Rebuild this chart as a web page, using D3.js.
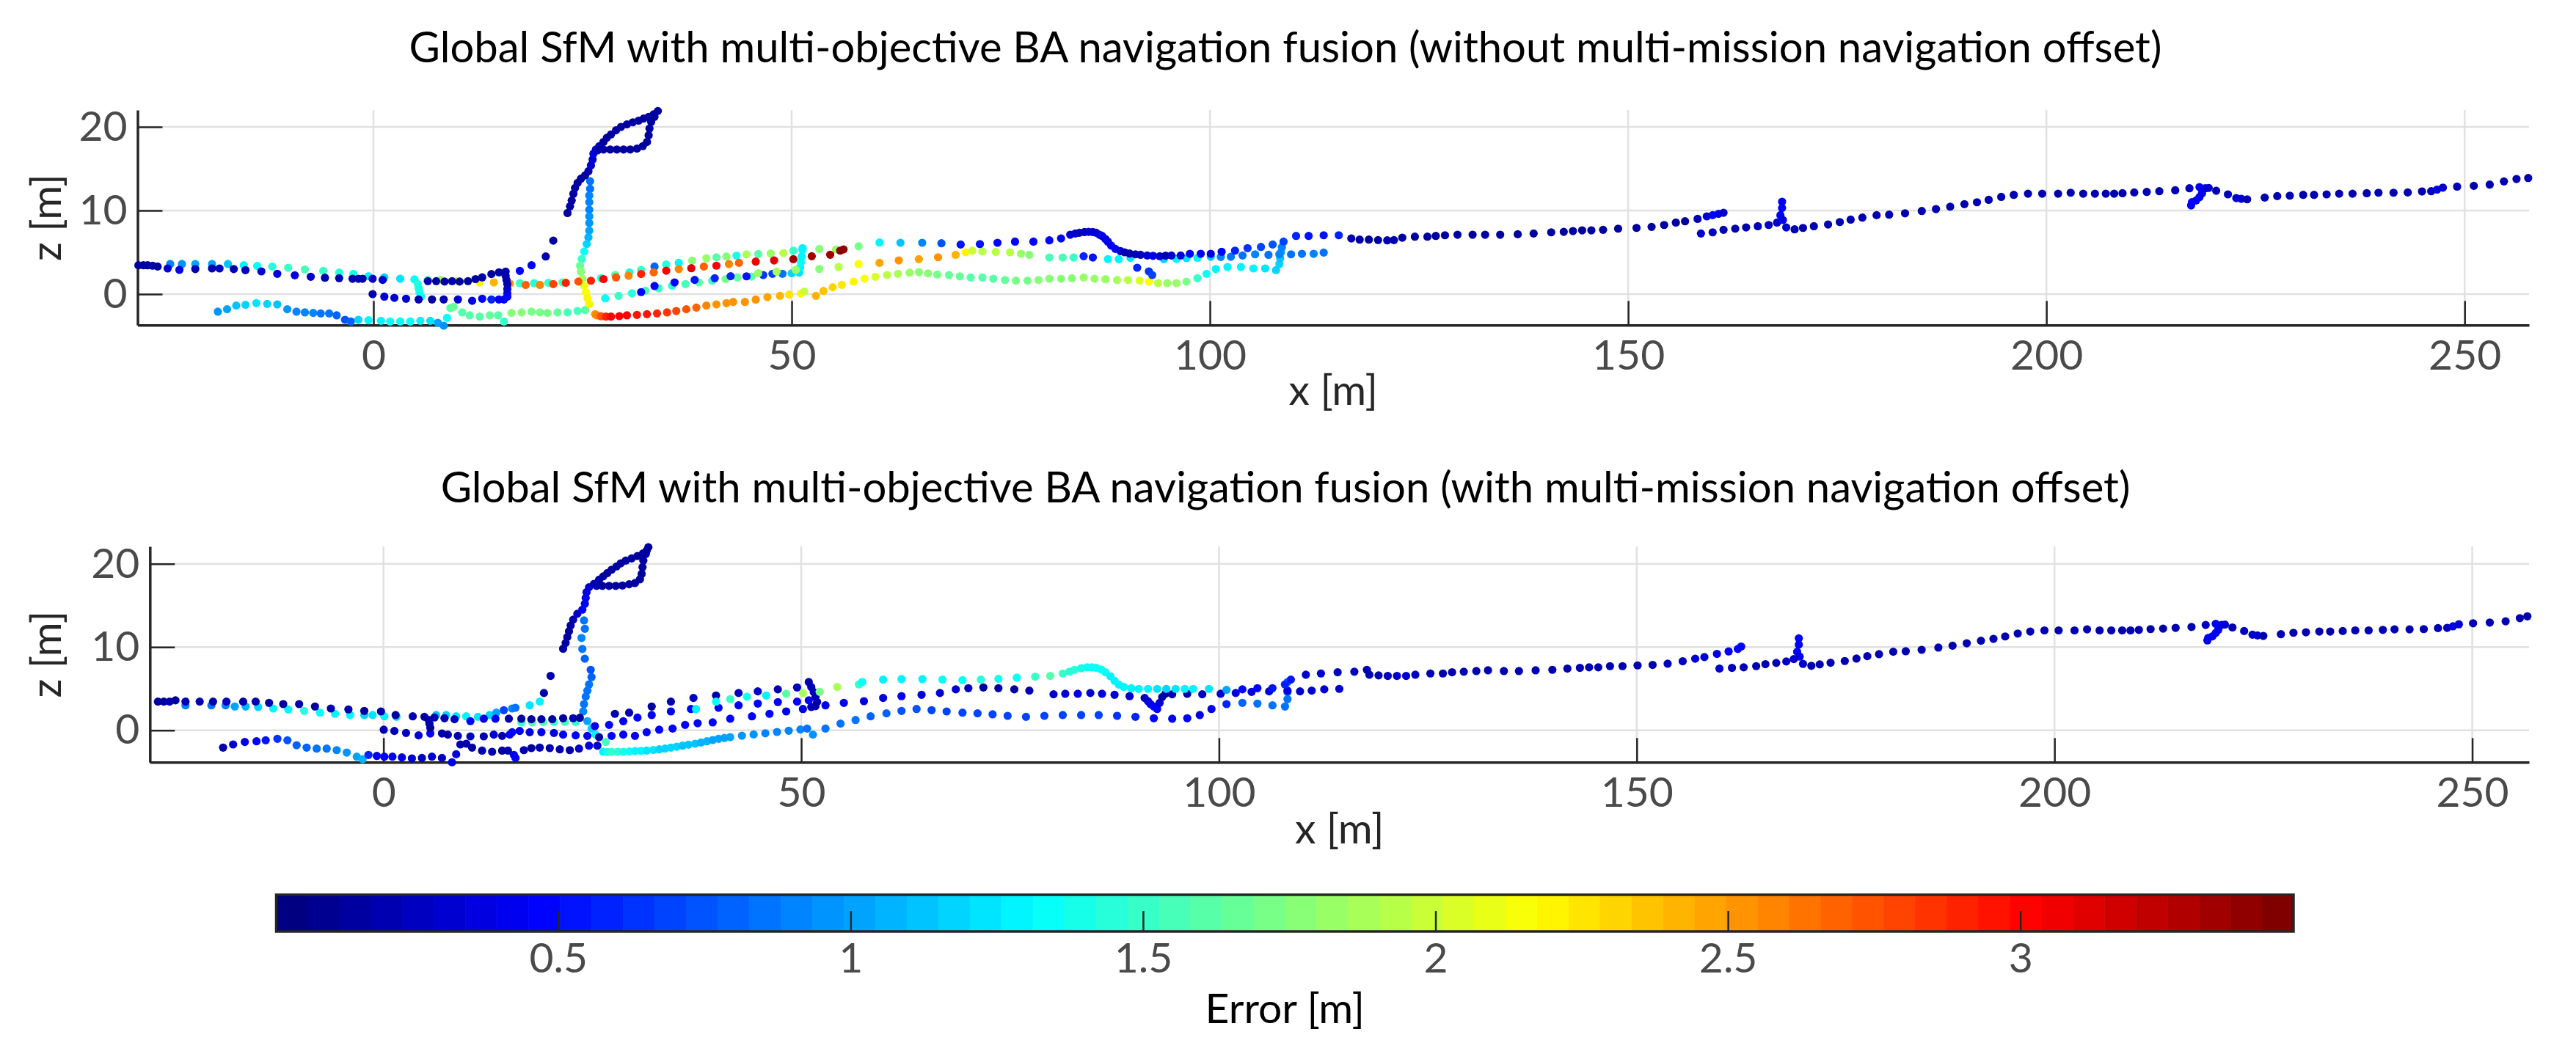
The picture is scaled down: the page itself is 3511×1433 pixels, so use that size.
<!DOCTYPE html>
<html>
<head>
<meta charset="utf-8">
<script src="https://cdn.jsdelivr.net/npm/d3@7/dist/d3.min.js"></script>
<style>
  body { margin: 0; background: #ffffff; }
  text { font-family: Lato, "Open Sans", sans-serif; }
</style>
</head>
<body>
<svg id="chart"></svg>
<script>
// Camera positions (x, z) of each mission, coloured by error [m]
// each point: [x, z, error]

// ---- top panel: without multi-mission navigation offset ----
const topNavyClimb = [
  [-28.1,3.45,0.15],[-27.5,3.45,0.15],[-27.0,3.45,0.15],[-26.4,3.4,0.2],[-25.8,3.3,0.15],[-24.6,3.07,0.3],
  [-23.2,2.9,0.35],[-21.3,3.0,0.2],[-19.3,3.07,0.2],[-18.4,3.07,0.25],[-16.7,3.0,0.2],[-15.3,2.87,0.25],
  [-13.4,2.72,0.3],[-11.5,2.43,0.35],[-9.4,2.25,0.35],[-7.5,2.08,0.3],[-5.8,1.96,0.2],[-4.1,1.9,0.2],
  [-2.5,1.84,0.2],[-1.8,1.84,0.2],[-1.3,1.84,0.2],[-0.1,1.84,0.25],[1.1,1.7,0.3],[6.5,1.55,0.2],
  [7.5,1.55,0.15],[8.5,1.5,0.15],[9.4,1.55,0.2],[10.3,1.5,0.15],[11.3,1.55,0.15],[12.2,1.8,0.15],
  [13.0,2.0,0.15],[14.1,2.4,0.15],[15.0,2.6,0.15],[15.8,2.7,0.2],[17.5,2.78,0.45],[18.9,3.45,0.45],
  [20.6,4.5,0.2],[21.5,6.4,0.15],[23.2,9.7,0.15],[23.5,10.5,0.15],[23.7,11.2,0.15],[23.9,12.0,0.15],
  [24.1,12.7,0.15],[24.4,13.3,0.15],[24.8,13.8,0.15],[25.3,14.2,0.15],[25.7,14.7,0.2],[26.0,15.4,0.3],
  [26.2,16.1,0.3],[26.3,16.8,0.35],[26.6,17.3,0.3],[27.0,17.7,0.2],[27.5,18.2,0.15],[27.9,18.7,0.15],
  [28.4,19.1,0.15],[29.0,19.6,0.15],[29.6,20.0,0.15],[30.3,20.3,0.15],[31.0,20.55,0.15],[31.7,20.75,0.15],
  [32.3,21.0,0.15],[32.9,21.2,0.15],[33.5,21.5,0.15],[34.0,21.9,0.15],[33.6,21.2,0.15],[33.2,20.6,0.15],
  [33.0,19.8,0.15],[32.9,19.0,0.15],[32.7,18.2,0.15],[32.2,17.7,0.15],[31.5,17.4,0.15],[30.7,17.3,0.15],
  [29.9,17.3,0.15],[29.1,17.3,0.15],[28.3,17.3,0.15],[27.5,17.3,0.15],[26.8,17.2,0.2]
];
const topNavyLow = [
  [-0.1,0.0,0.2],[1.3,-0.3,0.3],[2.5,-0.45,0.3],[3.9,-0.55,0.3],[5.4,-0.64,0.2],[7.0,-0.64,0.15],
  [8.4,-0.64,0.2],[10.1,-0.64,0.3],[11.8,-0.8,0.35],[13.0,-0.55,0.5],[14.1,-0.64,0.6],[15.0,-0.64,0.5],
  [15.6,-0.64,0.4],[16.0,-0.3,0.45],[16.0,0.1,0.4],[16.0,0.6,0.3],[16.0,1.2,0.2],[15.9,1.7,0.2],[15.8,2.2,0.2]
];
const topCyanLink = [[5.3,1.2,1.45],[5.4,0.7,1.4],[5.5,0.2,1.4],[5.7,-0.3,1.35]];
const topRedRow = [
  [-24.3,3.6,0.9],[-22.9,3.6,0.95],[-21.3,3.6,1.0],[-19.3,3.6,1.0],[-17.4,3.6,1.1],[-15.5,3.45,1.3],
  [-13.9,3.37,1.35],[-12.1,3.3,1.45],[-10.2,3.16,1.5],[-8.2,2.96,1.55],[-6.0,2.78,1.5],[-4.1,2.57,1.45],
  [-2.4,2.43,1.4],[-0.6,2.14,1.3],[1.3,2.0,1.2],[3.2,1.84,1.25],[4.9,1.76,1.35],[6.5,1.7,1.6],
  [8.0,1.7,1.85],[9.9,1.55,2.1],[11.3,1.55,1.95],[12.7,1.4,2.2],[14.4,1.4,2.4],[16.3,1.26,2.55],
  [18.2,1.1,2.7],[19.9,1.1,2.6],[21.5,1.2,2.8],[23.0,1.35,2.9],[24.5,1.5,2.75],[26.0,1.6,2.9],
  [27.5,1.8,3.0],[29.0,2.0,2.75],[30.5,2.2,2.6],[32.0,2.4,2.9],[33.5,2.6,2.7],[35.0,2.8,3.0],
  [36.5,3.0,2.6],[38.0,3.1,3.1],[39.5,3.3,2.7],[41.0,3.4,3.0],[42.5,3.6,2.6],[43.7,3.74,2.7],
  [45.7,3.89,3.05],[47.9,4.03,3.1],[50.2,4.18,3.35],[52.4,4.53,3.35],[54.6,4.71,3.35],[55.8,5.2,3.4],[56.2,5.35,3.4]
];
const topLongLow = [
  [-18.6,-2.1,0.95],[-17.5,-1.81,1.0],[-16.4,-1.37,1.1],[-15.3,-1.28,1.2],[-14.0,-1.08,1.25],[-12.7,-1.17,1.2],
  [-11.5,-1.23,1.1],[-10.3,-1.81,0.95],[-9.2,-2.1,0.9],[-8.2,-2.19,0.9],[-7.2,-2.25,0.9],[-6.3,-2.31,0.85],
  [-5.3,-2.31,0.85],[-4.4,-2.54,0.8],[-3.4,-3.07,0.75],[-2.7,-3.27,0.8],[-1.8,-3.07,1.2],[-0.6,-3.13,1.3],
  [0.9,-3.19,1.3],[2.0,-3.27,1.35],[3.2,-3.27,1.35],[4.4,-3.27,1.35],[5.6,-3.19,1.3],[6.8,-3.19,1.25],
  [7.7,-3.42,1.0],[8.4,-3.77,0.95],[8.8,-2.84,1.35],[9.2,-1.67,1.6],[9.6,-1.52,1.65],[10.6,-2.19,1.6],
  [11.5,-2.54,1.6],[12.7,-2.69,1.6],[13.9,-2.54,1.65],[14.9,-2.54,1.6],[15.6,-3.27,1.5],[16.5,-2.25,1.75],
  [17.7,-2.19,1.75],[18.9,-2.1,1.7],[19.9,-2.19,1.7],[20.8,-2.25,1.7],[22.0,-2.19,1.65],[23.2,-2.19,1.55],
  [24.4,-2.02,1.55],[25.3,-1.9,1.6],[26.5,-2.4,2.55],[26.7,-2.54,2.6],[27.2,-2.65,2.75],[27.8,-2.69,2.9],
  [28.4,-2.69,3.0],[29.4,-2.63,3.0],[30.3,-2.54,3.0],[31.5,-2.48,2.95],[32.7,-2.4,2.95],[33.9,-2.31,2.9],
  [35.1,-2.19,2.85],[36.2,-2.02,2.8],[37.4,-1.81,2.75],[38.6,-1.61,2.7],[39.8,-1.37,2.6],[41.0,-1.23,2.55],
  [42.2,-1.08,2.5],[43.0,-0.94,2.5],[44.4,-0.94,2.5],[45.7,-0.65,2.5],[47.1,-0.36,2.45],[48.6,-0.21,2.4],
  [49.7,-0.06,2.25],[51.1,0.08,2.2],[51.5,0.3,2.0],[52.9,-0.2,2.4],[53.8,0.38,2.35],[54.9,0.82,2.3],
  [56.0,1.11,2.25],[57.4,1.49,2.2],[58.7,1.84,2.15],[60.0,2.08,2.05],[61.4,2.28,1.95],[62.7,2.43,1.9],
  [64.1,2.57,1.8],[65.2,2.63,1.75],[66.3,2.48,1.75],[67.4,2.34,1.7],[68.8,2.28,1.65],[70.1,2.13,1.65],
  [71.4,1.99,1.6],[72.8,1.99,1.6],[74.1,1.84,1.6],[75.5,1.69,1.65],[76.8,1.61,1.7],[78.2,1.61,1.7],
  [79.5,1.69,1.75],[80.8,1.84,1.75],[82.2,1.84,1.75],[83.5,1.9,1.75],[84.9,1.99,1.8],[86.2,1.84,1.8],
  [87.5,1.78,1.85],[88.9,1.69,1.9],[90.2,1.69,1.95],[91.6,1.61,2.05],[92.7,1.49,2.15],[93.8,1.31,1.95],
  [94.9,1.31,1.85],[96.0,1.31,1.8],[97.2,1.49,1.7],[98.5,1.9,1.5],[99.6,2.43,1.35],[100.7,3.0,1.3],
  [102.1,3.24,1.3],[103.7,3.24,1.3],[105.2,3.07,1.3],[106.6,3.07,1.25],[107.9,2.86,1.2],[108.3,3.6,1.2],
  [108.4,4.3,1.1],[108.5,5.0,1.0],[108.6,5.6,0.9]
];
const topVertical = [
  [25.9,13.5,0.85],[25.9,12.6,0.85],[25.8,11.8,0.9],[25.8,11.0,0.9],[25.8,10.1,0.9],[25.8,9.3,0.95],
  [25.8,8.5,0.95],[25.8,7.6,1.0],[25.7,6.8,1.05],[25.5,6.0,1.2],[25.2,5.1,1.35],[24.9,4.2,1.5],
  [24.7,3.4,1.65],[24.8,2.7,1.75],[25.0,1.84,1.9],[25.2,1.0,2.1],[25.4,0.24,2.15],[25.6,-0.5,2.2],[25.8,-1.2,2.2]
];
const topAquaRow = [
  [17.5,1.3,1.5],[19.2,1.3,1.45],[20.9,1.35,1.5],[22.6,1.4,1.55],[27.7,-0.5,1.35],[29.3,-0.2,1.5],
  [30.9,0.1,1.45],[32.5,0.4,1.55],[34.1,0.7,1.5],[35.7,1.0,1.45],[37.3,1.2,1.55],[38.9,1.4,1.6],
  [40.5,1.6,1.55],[42.1,1.8,1.7],[43.5,2.0,1.65],[45.2,2.1,1.6]
];
const topBlueRow = [
  [32.0,0.24,0.5],[33.6,0.97,0.5],[36.0,1.4,0.45],[38.4,1.7,0.55],[40.8,1.9,0.6],[42.7,2.14,0.6],
  [44.6,2.13,0.55],[46.6,2.28,0.65],[47.7,2.43,0.7],[48.9,2.43,0.85],[50.0,2.5,1.2],[50.9,2.57,1.25],
  [51.0,3.2,1.3],[51.1,3.8,1.35],[51.2,4.5,1.3],[51.3,5.3,1.3]
];
const topUpperRow = [
  [27.2,1.9,1.45],[28.9,2.3,1.6],[30.6,2.6,1.4],[32.0,2.9,1.5],[33.6,3.3,0.8],[35.0,3.55,1.45],
  [36.5,3.74,1.3],[38.1,4.0,1.75],[39.8,4.3,1.8],[41.0,4.4,1.6],[42.2,4.5,1.75],[43.4,4.6,1.4],
  [44.6,4.76,1.9],[46.0,4.8,1.6],[47.5,4.85,1.8],[49.0,4.9,1.95],[50.2,5.2,1.5],[51.3,5.5,1.3],
  [53.3,5.4,1.75],[55.3,5.35,1.8],[58.0,5.73,1.7],[60.5,6.17,1.3],[63.0,6.14,1.1],[65.6,6.14,0.9],
  [67.9,6.08,0.75],[70.2,5.93,0.55],[72.5,5.99,0.55],[74.6,6.14,0.5],[76.7,6.28,0.5],[78.9,6.28,0.5],
  [80.8,6.43,0.45],[82.2,6.66,0.45],[83.3,7.1,0.3],[83.9,7.25,0.3],[84.4,7.34,0.25],[85.0,7.42,0.25],
  [85.5,7.45,0.3],[86.0,7.42,0.3],[86.4,7.34,0.3],[86.8,7.1,0.35],[87.1,6.96,0.35],[87.5,6.6,0.35],
  [87.8,6.28,0.4],[88.2,5.8,0.4],[88.7,5.41,0.45],[89.3,5.15,0.3],[89.8,5.0,0.2],[90.4,4.85,0.2],
  [91.1,4.76,0.2],[91.7,4.7,0.25],[92.5,4.62,0.3],[93.2,4.58,0.4],[94.0,4.53,0.3],[94.7,4.6,0.2],
  [95.4,4.62,0.3],[96.5,4.62,0.35],[97.6,4.82,0.45],[98.9,4.82,0.45],[100.1,4.82,0.4],[101.4,5.06,0.5],
  [103.0,5.2,0.6],[104.5,5.5,0.65],[106.1,5.64,0.7],[107.5,5.93,0.75],[108.8,6.28,0.7],[110.3,6.96,0.6],
  [111.8,6.96,0.55],[113.6,7.04,0.55],[115.4,7.04,0.6]
];
const topYellowRow = [
  [46.0,2.5,1.8],[48.2,2.7,1.9],[50.5,2.9,1.85],[53.3,3.0,1.75],[55.6,3.24,1.95],[58.0,3.6,2.15],
  [60.5,3.74,2.45],[62.8,4.03,2.5],[65.2,4.18,2.45],[67.5,4.41,2.5],[69.6,4.7,2.4],[70.8,5.0,2.2],
  [71.6,5.2,2.0],[72.8,5.11,1.95],[74.4,5.05,1.95],[76.1,5.0,1.95],[77.4,4.82,1.8],[78.4,4.7,1.75],
  [80.8,4.38,1.55],[82.4,4.38,1.55],[83.7,4.38,1.5],[84.9,4.53,0.6],[86.0,4.38,0.55],[87.8,4.18,1.3],
  [89.1,4.18,1.3],[90.5,4.33,1.25],[91.3,3.16,0.6],[92.7,2.72,0.65],[93.1,2.28,0.7],[94.5,4.18,1.2],
  [96.0,4.2,1.3],[97.2,4.3,1.25],[98.5,4.33,1.3],[100.1,4.47,1.1],[101.3,4.45,0.9],[102.5,4.47,0.85],
  [103.9,4.62,0.85],[105.4,4.76,0.9],[107.0,4.7,0.85],[108.3,4.76,0.9],[109.7,4.76,0.85],[111.0,4.82,0.85],
  [112.4,4.82,0.9],[113.6,4.97,0.85]
];
const topNavyRight = [
  [116.9,6.66,0.2],[117.9,6.52,0.15],[119.0,6.52,0.15],[120.1,6.46,0.15],[121.2,6.43,0.2],[122.0,6.46,0.2],
  [123.0,6.75,0.15],[124.5,6.87,0.15],[126.0,6.87,0.15],[127.0,6.96,0.15],[128.1,7.04,0.15],[129.6,7.1,0.15],
  [131.4,7.1,0.15],[132.9,7.1,0.15],[134.7,7.1,0.15],[136.8,7.16,0.15],[138.7,7.25,0.15],[140.8,7.39,0.15],
  [142.3,7.45,0.15],[143.4,7.54,0.15],[144.5,7.63,0.15],[145.6,7.63,0.15],[147.0,7.69,0.15],[148.8,7.83,0.15],
  [151.0,7.92,0.15],[152.8,8.04,0.15],[154.3,8.27,0.15],[155.7,8.56,0.15],[156.8,8.71,0.15],[158.3,9.0,0.2],
  [159.4,9.3,0.3],[160.1,9.44,0.5],[160.8,9.6,0.4],[161.4,9.73,0.3]
];
const topFarRight = [
  [158.7,7.25,0.3],[160.1,7.39,0.25],[161.4,7.69,0.2],[162.8,7.83,0.2],[164.1,7.98,0.2],[165.5,8.12,0.2],
  [166.8,8.27,0.25],[167.8,8.56,0.3],[168.2,9.44,0.45],[168.4,10.3,0.5],[168.4,11.05,0.5],[168.5,8.86,0.35],
  [168.9,7.98,0.3],[169.9,7.75,0.2],[170.9,7.92,0.2],[172.2,8.12,0.2],[173.9,8.33,0.2],[175.3,8.62,0.2],
  [176.6,8.91,0.2],[178.0,9.15,0.2],[179.7,9.44,0.2],[181.2,9.5,0.2],[183.1,9.67,0.2],[185.1,9.94,0.2],
  [186.8,10.17,0.2],[188.5,10.46,0.2],[190.2,10.76,0.2],[191.7,10.99,0.2],[193.1,11.28,0.2],[194.6,11.63,0.2],
  [196.1,11.87,0.2],[197.8,12.01,0.2],[199.5,12.01,0.2],[201.4,12.01,0.2],[202.9,12.13,0.2],[204.4,12.01,0.2],
  [205.8,12.01,0.2],[207.1,12.01,0.2],[208.1,12.01,0.2],[209.1,12.07,0.2],[210.5,12.16,0.2],[212.0,12.22,0.2],
  [213.5,12.31,0.2],[215.4,12.42,0.2],[217.1,12.66,0.25],[218.3,12.8,0.4],[217.3,10.61,0.4],[217.4,11.0,0.45],
  [217.9,11.2,0.4],[218.3,11.6,0.45],[218.6,12.07,0.4],[219.0,12.66,0.35],[219.4,12.7,0.3],[220.3,12.36,0.2],
  [221.7,11.93,0.25],[222.7,11.49,0.3],[223.3,11.4,0.3],[224.0,11.34,0.2],[226.1,11.55,0.2],[227.6,11.72,0.2],
  [229.1,11.78,0.2],[230.7,11.87,0.2],[232.0,11.87,0.2],[233.5,11.93,0.2],[235.0,12.01,0.2],[236.6,12.01,0.2],
  [238.3,12.07,0.2],[239.7,12.13,0.2],[241.5,12.13,0.2],[243.2,12.16,0.2],[244.9,12.28,0.2],[246.0,12.31,0.25],
  [246.7,12.5,0.35],[247.4,12.74,0.3],[249.1,12.86,0.2],[251.1,12.95,0.2],[253.0,13.1,0.2],[254.7,13.48,0.2],
  [256.2,13.77,0.2],[257.6,13.89,0.2]
];

// ---- bottom panel: with multi-mission navigation offset ----
const botNavyClimb = [
  [-27.0,3.45,0.15],[-26.3,3.45,0.15],[-25.6,3.45,0.2],[-24.9,3.6,0.15],[-23.7,3.45,0.2],[-22.0,3.45,0.2],
  [-20.4,3.45,0.2],[-18.8,3.45,0.25],[-16.8,3.45,0.2],[-15.3,3.45,0.2],[-13.7,3.3,0.2],[-12.0,3.15,0.15],
  [-10.1,3.15,0.2],[-8.2,2.86,0.15],[-6.3,2.62,0.2],[-4.2,2.51,0.2],[-2.3,2.33,0.15],[-0.3,2.27,0.2],
  [1.45,1.83,0.15],[3.5,1.68,0.2],[4.9,1.62,0.15],[6.1,1.54,0.2],[7.3,1.45,0.2],[8.5,1.33,0.25],
  [10.4,1.1,0.45],[12.0,1.39,0.35],[13.4,1.39,0.4],[15.0,1.39,0.2],[16.5,1.39,0.15],[17.7,1.33,0.15],
  [18.9,1.33,0.15],[20.2,1.33,0.15],[21.5,1.45,0.15],[22.7,1.45,0.2],[23.5,1.5,0.15],[19.2,4.48,0.2],
  [20.0,6.54,0.2],[21.5,9.8,0.15],[21.8,10.5,0.15],[22.0,11.2,0.15],[22.2,11.9,0.15],[22.4,12.6,0.15],
  [22.7,13.3,0.2],[23.2,14.0,0.25],[23.8,14.5,0.4],[24.1,15.2,0.45],[24.2,15.9,0.4],[24.3,16.6,0.35],
  [24.6,17.2,0.3],[25.2,17.6,0.2],[25.8,18.1,0.2],[26.3,18.5,0.15],[26.8,18.9,0.15],[27.3,19.3,0.15],
  [27.9,19.7,0.15],[28.4,20.07,0.15],[29.0,20.4,0.15],[29.7,20.66,0.15],[30.4,20.95,0.15],[31.05,21.25,0.15],
  [31.5,21.6,0.15],[31.7,22.0,0.15],[31.4,21.2,0.15],[31.1,20.4,0.15],[31.0,19.6,0.15],[30.9,18.8,0.15],
  [30.7,18.15,0.15],[30.1,17.7,0.15],[29.4,17.55,0.15],[28.6,17.4,0.15],[27.8,17.36,0.15],[27.0,17.36,0.15],
  [26.2,17.36,0.15],[25.5,17.36,0.2]
];
const botCyanRow = [
  [-23.7,3.0,0.9],[-20.6,3.0,0.85],[-18.9,3.0,0.9],[-17.8,2.86,1.0],[-16.5,2.86,1.05],[-15.0,2.8,1.2],
  [-13.2,2.62,1.3],[-11.4,2.51,1.3],[-9.5,2.33,1.45],[-7.6,2.12,1.35],[-5.8,1.98,1.3],[-4.0,1.83,1.3],
  [-2.3,1.83,1.2],[-1.3,1.83,1.25],[0.1,1.68,1.3],[1.55,1.62,1.25],[6.3,1.83,1.1],[7.5,1.83,1.2],
  [8.7,1.68,1.25],[9.9,1.68,1.3],[11.3,1.62,1.25],[12.7,1.83,1.2],[13.5,2.12,1.0],[14.4,2.42,0.7],
  [15.4,2.62,0.9],[15.8,2.71,0.85],[17.5,3.0,1.25],[18.7,3.45,1.3]
];
const botNavyLow = [
  [0.03,0.07,0.2],[1.3,-0.08,0.2],[2.7,-0.32,0.25],[4.2,-0.61,0.3],[5.6,-0.38,0.45],[5.4,1.24,0.2],
  [5.5,0.8,0.2],[5.6,0.3,0.15],[7.0,-0.38,0.2],[7.7,-0.52,0.15],[8.9,-0.67,0.2],[10.4,-0.73,0.25],
  [12.0,-0.73,0.2],[13.2,-0.52,0.3],[14.2,-0.67,0.2],[15.1,-0.52,0.45],[15.4,-0.23,0.5],[16.3,-0.08,0.4],
  [17.5,-0.23,0.35],[18.9,-0.23,0.4],[20.4,-0.32,0.35],[21.5,-0.52,0.5],[23.0,-0.61,0.5],[24.4,-0.67,0.4],
  [25.8,-0.82,0.15],[27.3,-0.67,0.45],[28.7,-0.52,0.45],[30.1,-0.67,0.4],[31.5,-0.23,0.45],[33.0,0.07,0.5],
  [34.6,0.21,0.45],[36.1,0.65,0.5],[37.6,0.85,0.45],[39.4,0.95,0.5],[41.5,1.39,0.45],[44.1,1.68,0.5],
  [46.2,1.98,0.45],[48.2,2.27,0.4],[50.2,2.56,0.35]
];
const botLongLow = [
  [-19.2,-2.08,0.2],[-18.0,-1.7,0.3],[-16.6,-1.4,0.35],[-15.2,-1.32,0.45],[-14.1,-1.2,0.55],[-12.7,-1.02,0.65],
  [-11.5,-1.2,0.75],[-10.4,-1.79,0.8],[-9.2,-2.08,0.8],[-8.0,-2.2,0.85],[-6.8,-2.2,0.85],[-5.6,-2.38,0.9],
  [-4.4,-2.67,0.95],[-3.2,-3.17,1.0],[-2.5,-3.47,1.05],[-1.8,-2.96,0.6],[-0.8,-3.08,0.5],[0.1,-3.17,0.45],
  [1.07,-3.17,0.4],[2.2,-3.26,0.35],[3.4,-3.38,0.3],[4.6,-3.32,0.25],[5.8,-3.17,0.3],[7.0,-3.32,0.25],
  [8.2,-3.85,0.4],[8.7,-2.88,0.35],[9.2,-1.7,0.2],[9.9,-1.61,0.2],[10.6,-2.08,0.15],[11.8,-2.44,0.2],
  [13.0,-2.58,0.2],[14.2,-2.44,0.15],[14.9,-2.44,0.2],[15.6,-2.96,0.4],[15.8,-3.32,0.45],[16.8,-2.38,0.2],
  [17.7,-2.14,0.15],[18.7,-2.08,0.2],[19.9,-2.14,0.2],[21.1,-2.29,0.2],[22.3,-2.38,0.15],[23.4,-2.2,0.3],
  [24.6,-1.85,0.35],[25.6,-1.85,0.3],[26.3,-2.58,1.3],[26.8,-2.6,1.4],[27.3,-2.58,1.5],[28.0,-2.58,1.45],
  [28.7,-2.58,1.4],[29.4,-2.55,1.35],[30.1,-2.5,1.3],[30.8,-2.47,1.3],[31.5,-2.44,1.25],[32.3,-2.36,1.25],
  [33.0,-2.29,1.2],[33.7,-2.2,1.2],[34.4,-2.08,1.15],[35.1,-1.97,1.15],[35.8,-1.85,1.1],[36.5,-1.73,1.1],
  [37.3,-1.61,1.1],[38.0,-1.47,1.05],[38.7,-1.32,1.05],[39.4,-1.17,1.0],[40.1,-1.02,1.0],[40.8,-0.92,1.0],
  [41.5,-0.82,1.0],[42.9,-0.65,0.95],[44.3,-0.5,0.95],[45.7,-0.36,0.9],[47.1,-0.2,0.9],[48.5,-0.05,0.9],
  [49.9,0.1,0.9],[50.7,0.21,0.85],[51.4,-0.52,0.95],[52.9,0.21,0.85],[54.7,0.8,0.85],[56.5,1.24,0.85],
  [58.3,1.68,0.8],[60.2,2.04,0.8],[62.0,2.33,0.75],[63.8,2.56,0.75],[65.6,2.42,0.7],[67.4,2.27,0.7],
  [69.3,2.12,0.7],[71.1,2.04,0.7],[72.9,1.92,0.7],[74.7,1.74,0.7],[76.9,1.62,0.7],[79.1,1.74,0.7],
  [81.3,1.83,0.7],[83.5,1.83,0.7],[85.6,1.83,0.7],[87.8,1.74,0.65],[90.0,1.62,0.6],[92.2,1.45,0.5],
  [94.4,1.39,0.5],[96.2,1.45,0.45],[97.7,1.83,0.35],[99.1,2.56,0.4],[100.9,3.15,0.6],[102.8,3.3,0.8],
  [104.6,3.21,0.85],[106.4,3.0,0.85],[107.9,2.86,0.85],[108.2,3.74,0.85],[108.2,4.6,0.8],[108.2,5.8,0.8]
];
const botVertical = [
  [24.0,13.2,0.85],[24.1,12.2,0.85],[23.7,11.1,0.9],[23.8,9.77,0.85],[24.1,8.6,0.8],[24.8,7.27,0.75],
  [24.9,6.39,0.8],[24.6,5.51,0.85],[24.4,4.77,0.85],[24.2,4.04,0.85],[24.0,3.15,0.85],[23.9,2.27,0.9],
  [24.4,1.1,1.0],[24.9,0.21,1.15],[25.4,-0.52,1.3],[26.6,-1.4,1.55]
];
const botAquaRow = [[16.5,0.95,1.5],[17.8,0.95,1.6],[19.1,1.0,1.55],[20.4,1.0,1.5],[21.7,1.0,1.55],[23.0,1.0,1.5]];
const botBlueRow = [
  [25.3,0.5,0.4],[27.0,0.65,0.45],[28.7,1.09,0.4],[30.4,1.53,0.45],[32.1,1.83,0.4],[34.4,2.27,0.4],
  [36.8,2.56,0.45],[40.1,2.71,0.45],[42.5,3.0,0.4],[44.8,3.21,0.45],[47.2,3.39,0.5],[49.5,3.45,0.45],[50.9,3.6,0.4]
];
const botNavyMid = [
  [27.7,1.98,0.2],[29.4,2.12,0.2],[32.1,2.86,0.15],[34.4,3.45,0.2],[37.1,3.89,0.25],[39.8,4.18,0.2],
  [42.5,4.48,0.25],[44.8,4.68,0.3],[47.2,4.92,0.2],[49.5,5.15,0.25],[50.9,5.8,0.2],[51.2,5.2,0.2],
  [51.5,4.6,0.25],[51.7,4.0,0.2],[51.9,3.4,0.2],[51.7,2.9,0.15],[51.2,2.8,0.2],[52.9,3.0,0.4],
  [55.1,3.3,0.4],[57.5,3.5,0.35],[59.8,3.89,0.35],[62.0,4.1,0.4],[64.4,4.27,0.35],[66.6,4.48,0.3],
  [68.5,4.92,0.3],[70.0,5.06,0.25],[71.8,5.15,0.15],[73.6,5.06,0.15],[75.5,4.92,0.15],[77.3,4.77,0.2],
  [80.2,4.33,0.3],[81.6,4.39,0.3],[83.1,4.39,0.35],[84.6,4.48,0.3],[86.0,4.39,0.35],[87.5,4.27,0.3],
  [89.3,4.1,0.3],[91.1,3.89,0.25],[91.5,3.5,0.3],[91.8,3.15,0.4],[92.2,2.85,0.45],[92.6,2.56,0.5],
  [92.9,3.3,0.3],[93.2,4.0,0.2],[93.6,4.4,0.15],[94.4,4.33,0.2],[96.2,4.39,0.2],[98.0,4.33,0.25],
  [100.2,4.39,0.3],[102.0,4.48,0.35],[103.9,4.62,0.35],[106.0,4.68,0.3],[108.2,4.77,0.35],[109.7,4.68,0.3],
  [111.1,4.77,0.3],[112.6,4.92,0.3],[114.4,4.98,0.3]
];
const botUpperRow = [
  [37.4,2.56,1.3],[39.8,3.45,1.35],[41.5,3.74,1.5],[43.5,4.04,1.4],[45.8,4.18,1.3],[48.2,4.39,1.6],
  [50.2,4.48,1.9],[52.2,4.62,1.7],[54.3,5.21,1.9],[56.9,5.51,1.5],[57.3,5.8,1.35],[59.8,6.09,1.3],
  [62.0,6.15,1.3],[64.5,6.15,1.3],[66.9,6.09,1.35],[69.3,6.03,1.35],[71.5,6.09,1.45],[73.6,6.18,1.4],
  [75.8,6.33,1.35],[78.0,6.45,1.5],[79.8,6.54,1.6],[81.3,6.83,1.5],[82.1,7.05,1.45],[82.7,7.27,1.45],
  [83.5,7.45,1.4],[84.2,7.57,1.35],[84.8,7.57,1.35],[85.3,7.51,1.35],[85.9,7.3,1.35],[86.4,6.98,1.35],
  [87.0,6.5,1.3],[87.5,5.95,1.3],[88.0,5.5,1.3],[88.6,5.21,1.3],[89.5,5.05,1.3],[90.4,4.98,1.3],
  [91.5,4.98,1.3],[92.6,4.98,1.25],[93.7,4.98,1.2],[94.8,4.98,1.25],[95.9,4.98,1.3],[96.9,4.98,1.3],
  [98.8,4.98,1.25],[100.9,4.86,1.0],[102.8,4.92,0.5],[104.6,5.06,0.5],[106.4,5.06,0.55],[107.9,5.5,0.6],
  [108.6,6.09,0.55],[110.4,6.68,0.3],[112.2,6.83,0.3],[114.2,6.98,0.25],[116.2,7.04,0.25],[117.7,7.27,0.2],
  [118.0,6.68,0.2],[119.1,6.6,0.2],[120.2,6.54,0.25],[121.3,6.54,0.3],[122.4,6.54,0.3],[123.5,6.68,0.25],
  [125.3,6.83,0.2],[126.8,6.83,0.2],[127.9,6.98,0.2],[129.3,7.04,0.2],[130.8,7.12,0.2],[132.2,7.21,0.2],
  [134.1,7.12,0.2],[135.9,7.12,0.2],[137.9,7.21,0.2],[139.9,7.27,0.2],[141.7,7.42,0.2],[143.2,7.51,0.2],
  [144.3,7.57,0.2],[145.4,7.57,0.2],[146.8,7.71,0.2],[148.3,7.71,0.2],[150.1,7.8,0.2],[151.9,7.86,0.2],
  [153.7,8.0,0.25],[155.5,8.3,0.25],[157.0,8.6,0.3],[158.1,8.8,0.3],[159.6,9.18,0.35],[161.0,9.48,0.4],
  [162.1,9.77,0.45],[162.5,10.07,0.5]
];
const botFarRight = [
  [159.9,7.42,0.3],[161.4,7.51,0.25],[162.8,7.57,0.2],[164.3,7.71,0.2],[165.4,7.95,0.2],[166.7,8.1,0.2],
  [167.9,8.27,0.25],[168.8,8.56,0.3],[169.2,9.44,0.45],[169.4,10.3,0.5],[169.4,11.05,0.5],[169.5,8.86,0.35],
  [169.9,7.98,0.3],[170.9,7.75,0.2],[171.9,7.92,0.2],[173.2,8.12,0.2],[174.9,8.33,0.2],[176.3,8.62,0.2],
  [177.6,8.91,0.2],[179.0,9.15,0.2],[180.7,9.44,0.2],[182.2,9.5,0.2],[184.1,9.67,0.2],[186.1,9.94,0.2],
  [187.8,10.17,0.2],[189.5,10.46,0.2],[191.2,10.76,0.2],[192.7,10.99,0.2],[194.1,11.28,0.2],[195.6,11.63,0.2],
  [197.1,11.87,0.2],[198.8,12.01,0.2],[200.5,12.01,0.2],[202.4,12.01,0.2],[203.9,12.13,0.2],[205.4,12.01,0.2],
  [206.8,12.01,0.2],[208.1,12.01,0.2],[209.1,12.01,0.2],[210.1,12.07,0.2],[211.5,12.16,0.2],[213.0,12.22,0.2],
  [214.5,12.31,0.2],[216.4,12.42,0.2],[218.1,12.66,0.25],[219.3,12.8,0.4],[218.3,10.8,0.4],[218.4,11.1,0.45],
  [218.9,11.3,0.4],[219.3,11.7,0.45],[219.6,12.07,0.4],[220.0,12.66,0.35],[220.4,12.7,0.3],[221.3,12.36,0.2],
  [222.7,11.93,0.25],[223.7,11.49,0.3],[224.3,11.4,0.3],[225.0,11.34,0.2],[227.1,11.55,0.2],[228.6,11.72,0.2],
  [230.1,11.78,0.2],[231.7,11.87,0.2],[233.0,11.87,0.2],[234.5,11.93,0.2],[236.0,12.01,0.2],[237.6,12.01,0.2],
  [239.3,12.07,0.2],[240.7,12.13,0.2],[242.5,12.13,0.2],[244.2,12.16,0.2],[245.9,12.28,0.2],[247.0,12.31,0.25],
  [247.7,12.5,0.35],[248.4,12.74,0.3],[250.1,12.86,0.2],[252.1,12.95,0.2],[254.0,13.1,0.2],[255.7,13.48,0.2],
  [256.6,13.7,0.2]
];

const topTracks = [topLongLow, topVertical, topAquaRow, topBlueRow, topYellowRow, topUpperRow, topRedRow,
  topCyanLink, topNavyLow, topNavyClimb, topNavyRight, topFarRight];
const botTracks = [botLongLow, botVertical, botAquaRow, botBlueRow, botNavyLow, botCyanRow, botNavyMid,
  botUpperRow, botNavyClimb, botFarRight];

const titles = [
  'Global SfM with multi-objective BA navigation fusion (without multi-mission navigation offset)',
  'Global SfM with multi-objective BA navigation fusion (with multi-mission navigation offset)'
];
const xTicks = [0, 50, 100, 150, 200, 250];
const zTicks = [0, 10, 20];
const cbTicks = [0.5, 1, 1.5, 2, 2.5, 3];
const errRange = [0.018, 3.467];

// ---- drawing ----
const W = 3511, H = 1433;
const svg = d3.select('#chart').attr('width', W).attr('height', H)
  .style('background', '#ffffff');

// MATLAB-like jet colormap
function jet(t) {
  const c = v => Math.max(0, Math.min(1, v));
  const r = c(Math.min(4 * t - 1.5, -4 * t + 4.5));
  const g = c(Math.min(4 * t - 0.5, -4 * t + 3.5));
  const b = c(Math.min(4 * t + 0.5, -4 * t + 2.5));
  return d3.rgb(r * 255, g * 255, b * 255).formatHex();
}
const nColors = 64;
const color = d3.scaleQuantize().domain(errRange)
  .range(d3.range(nColors).map(i => jet(i / (nColors - 1))));

const panels = [
  { title: titles[0], tracks: topTracks, left: 187.5, right: 3447, top: 150, bottom: 443.3,
    xDom: [-28.2, 257.7], zDom: [-3.71, 22.02], titleY: 85, xLabelY: 552 },
  { title: titles[1], tracks: botTracks, left: 204.3, right: 3447, top: 745, bottom: 1039.3,
    xDom: [-27.96, 256.8], zDom: [-3.84, 22.1], titleY: 685, xLabelY: 1150 }
];

const fontSize = 57;
const titleSize = 58;
const axisColor = '#262626';
const tickTextColor = '#4a4a4a';

panels.forEach(p => {
  const x = d3.scaleLinear().domain(p.xDom).range([p.left, p.right]);
  const z = d3.scaleLinear().domain(p.zDom).range([p.bottom, p.top]);
  const g = svg.append('g');

  // grid
  g.append('g').selectAll('line').data(xTicks).enter().append('line')
    .attr('x1', d => x(d)).attr('x2', d => x(d))
    .attr('y1', p.top).attr('y2', p.bottom)
    .attr('stroke', '#e1e1e1').attr('stroke-width', 2.5);
  g.append('g').selectAll('line').data(zTicks).enter().append('line')
    .attr('x1', p.left).attr('x2', p.right)
    .attr('y1', d => z(d)).attr('y2', d => z(d))
    .attr('stroke', '#e1e1e1').attr('stroke-width', 2.5);

  // axes (ticks pointing inside)
  const xAxis = d3.axisBottom(x).tickValues(xTicks).tickSizeInner(-33).tickSizeOuter(0)
    .tickPadding(20).tickFormat(d3.format('d'));
  const zAxis = d3.axisLeft(z).tickValues(zTicks).tickSizeInner(-34).tickSizeOuter(0)
    .tickPadding(14).tickFormat(d3.format('d'));

  const gx = g.append('g').attr('transform', `translate(0,${p.bottom})`).call(xAxis);
  const gz = g.append('g').attr('transform', `translate(${p.left},0)`).call(zAxis);
  [gx, gz].forEach(a => {
    a.select('.domain').attr('stroke', axisColor).attr('stroke-width', 3.5);
    a.selectAll('.tick line').attr('stroke', axisColor).attr('stroke-width', 2.5);
    a.selectAll('.tick text').attr('fill', tickTextColor)
      .style('font-size', fontSize + 'px').style('font-family', 'Lato');
  });

  // points
  const pts = [];
  p.tracks.forEach(t => t.forEach(d => {
    if (d[0] >= p.xDom[0] && d[0] <= p.xDom[1]) pts.push(d);
  }));
  g.append('g').selectAll('circle').data(pts).enter().append('circle')
    .attr('cx', d => x(d[0])).attr('cy', d => z(d[1]))
    .attr('r', 5.6)
    .attr('fill', d => color(d[2]));

  // title and labels
  svg.append('text').attr('x', 1752).attr('y', p.titleY)
    .attr('text-anchor', 'middle').attr('fill', '#000')
    .style('font-size', titleSize + 'px').text(p.title);
  svg.append('text').attr('x', (p.left + p.right) / 2).attr('y', p.xLabelY)
    .attr('text-anchor', 'middle').attr('fill', axisColor)
    .style('font-size', fontSize + 'px').text('x [m]');
  svg.append('text')
    .attr('transform', `translate(83,${(p.top + p.bottom) / 2}) rotate(-90)`)
    .attr('text-anchor', 'middle').attr('fill', axisColor)
    .style('font-size', fontSize + 'px').text('z [m]');
});

// ---- colorbar ----
const cb = { left: 376.5, right: 3126, top: 1220, bottom: 1270 };
const cx = d3.scaleLinear().domain(errRange).range([cb.left, cb.right]);
const bandW = (errRange[1] - errRange[0]) / nColors;
const bands = d3.range(nColors).map(i => errRange[0] + i * bandW);
svg.append('g').selectAll('rect').data(bands).enter().append('rect')
  .attr('x', d => cx(d)).attr('y', cb.top)
  .attr('width', d => cx(d + bandW) - cx(d) + 0.6)
  .attr('height', cb.bottom - cb.top)
  .attr('fill', d => color(d + bandW / 2));
svg.append('rect').attr('x', cb.left).attr('y', cb.top)
  .attr('width', cb.right - cb.left).attr('height', cb.bottom - cb.top)
  .attr('fill', 'none').attr('stroke', axisColor).attr('stroke-width', 3.5);

const cbAxis = d3.axisBottom(cx).tickValues(cbTicks).tickSizeInner(-28).tickSizeOuter(0)
  .tickPadding(16).tickFormat(d => String(d));
const gcb = svg.append('g').attr('transform', `translate(0,${cb.bottom})`).call(cbAxis);
gcb.select('.domain').remove();
gcb.selectAll('.tick line').attr('stroke', axisColor).attr('stroke-width', 2.5);
gcb.selectAll('.tick text').attr('fill', tickTextColor)
  .style('font-size', fontSize + 'px').style('font-family', 'Lato');

svg.append('text').attr('x', (cb.left + cb.right) / 2).attr('y', 1395)
  .attr('text-anchor', 'middle').attr('fill', '#000')
  .style('font-size', fontSize + 'px').text('Error [m]');
</script>
</body>
</html>
